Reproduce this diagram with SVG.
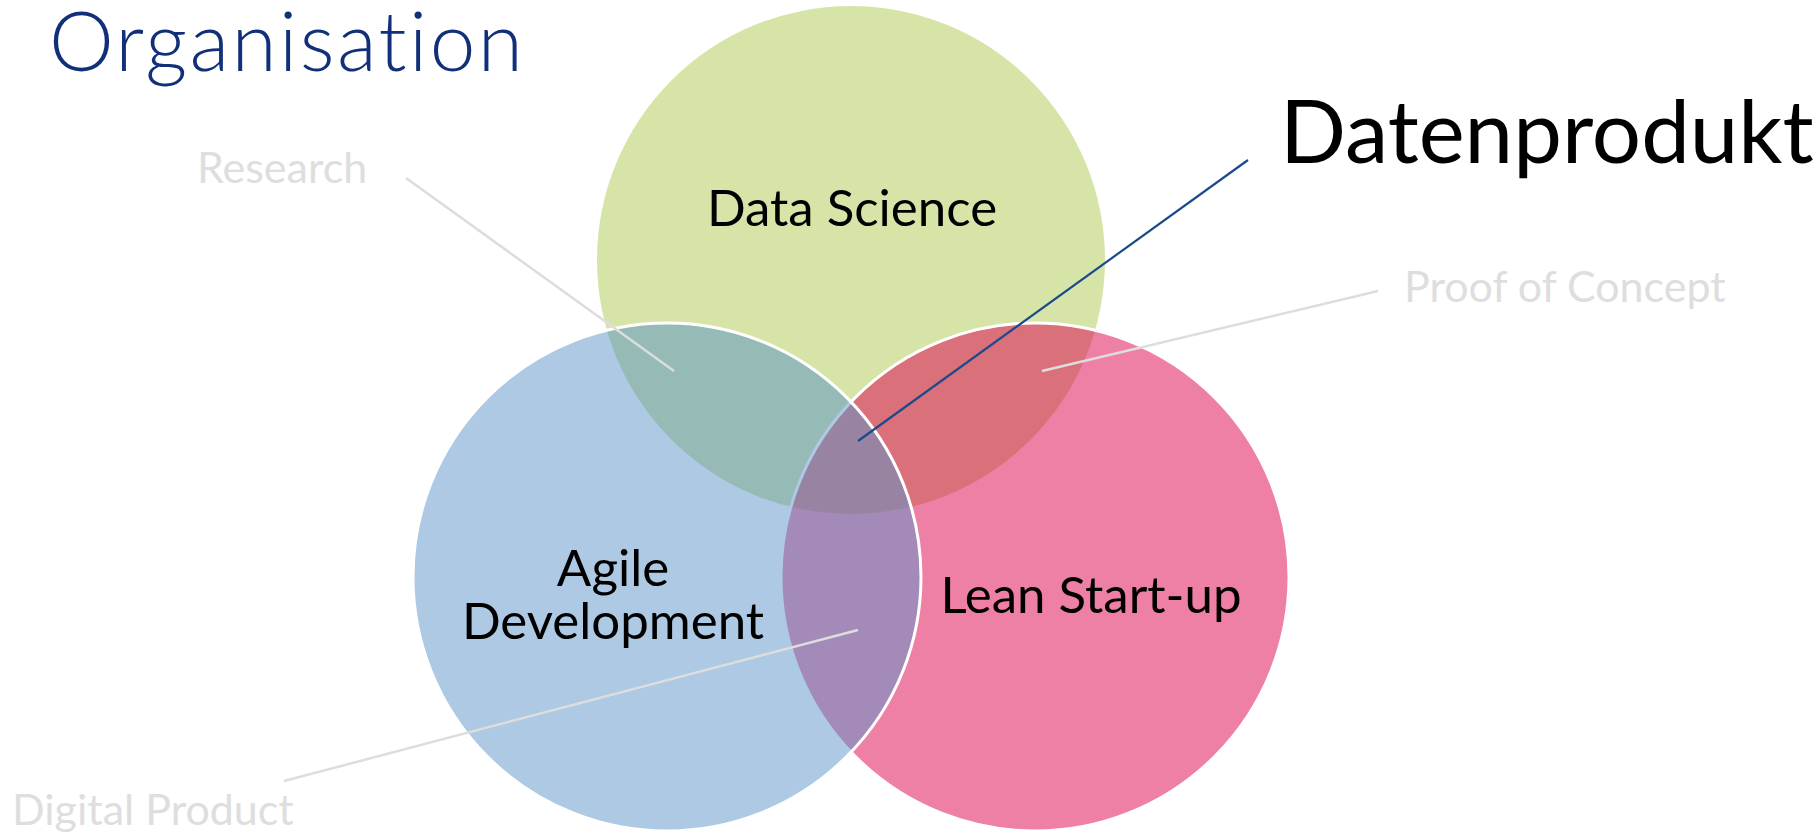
<svg xmlns="http://www.w3.org/2000/svg" width="1820" height="832" viewBox="0 0 1820 832">
<style>
.lbl{font-family:Lato,"Open Sans","Liberation Sans",sans-serif;fill:#000;text-anchor:middle;font-size:51px}
.gray{font-family:Lato,"Open Sans","Liberation Sans",sans-serif;fill:#DEDEDE;font-size:43px}
.gl{stroke:#DDDDDD;stroke-width:2.5;fill:none}
</style>
<defs>
<clipPath id="cG"><circle cx="851" cy="260" r="254"/></clipPath>
<clipPath id="cP"><circle cx="1035" cy="577" r="254"/></clipPath>
<clipPath id="cB"><circle cx="667" cy="577" r="254"/></clipPath>
</defs>
<rect width="1820" height="832" fill="#fff"/>
<text x="49" y="71" font-family="Lato,'Open Sans','Liberation Sans',sans-serif" font-weight="300" font-size="82" letter-spacing="2.4" fill="#12307A">Organisation</text>
<g id="node-datascience">
<circle cx="851" cy="260" r="254" fill="#D7E4A8"/>
</g>
<g id="node-leanstartup">
<circle cx="1035" cy="577" r="254" fill="#EE7FA5"/>
<circle cx="1035" cy="577" r="254" fill="#DA707A" clip-path="url(#cG)"/>
<circle cx="1035" cy="577" r="254" fill="none" stroke="#fff" stroke-width="3"/>
</g>
<g id="node-agile">
<circle cx="667" cy="577" r="254" fill="#ADC9E4"/>
<circle cx="667" cy="577" r="254" fill="#96BBB7" clip-path="url(#cG)"/>
<circle cx="667" cy="577" r="254" fill="#A48AB8" clip-path="url(#cP)"/>
<g clip-path="url(#cG)"><circle cx="667" cy="577" r="254" fill="#9983A3" clip-path="url(#cP)"/></g>
<circle cx="1035" cy="577" r="254" fill="none" stroke="#ADC9E4" stroke-width="3" clip-path="url(#cB)"/>
<circle cx="667" cy="577" r="254" fill="none" stroke="#fff" stroke-width="3"/>
</g>
<g id="labels">
<text class="lbl" x="852" y="226">Data Science</text>
<text class="lbl" x="613" y="586">Agile</text>
<text class="lbl" x="613" y="639">Development</text>
<text class="lbl" x="1091" y="613">Lean Start-up</text>
</g>
<g id="connectors">
<line class="gl" x1="406" y1="178" x2="674" y2="371"/>
<line class="gl" x1="1378" y1="291" x2="1042" y2="371"/>
<line class="gl" x1="284" y1="781" x2="858" y2="630"/>
<line x1="1248" y1="160" x2="858" y2="441" stroke="#1B4A8A" stroke-width="2.2"/>
</g>
<g id="node-research"><text class="gray" x="197" y="183">Research</text></g>
<g id="node-poc"><text class="gray" x="1404" y="302" font-size="41">Proof of Concept</text></g>
<g id="node-digital"><text class="gray" x="12" y="825">Digital Product</text></g>
<g id="node-datenprodukt"><text x="1280" y="163" font-family="Lato,'Open Sans','Liberation Sans',sans-serif" font-size="87" fill="#000">Datenprodukt</text></g>
</svg>
